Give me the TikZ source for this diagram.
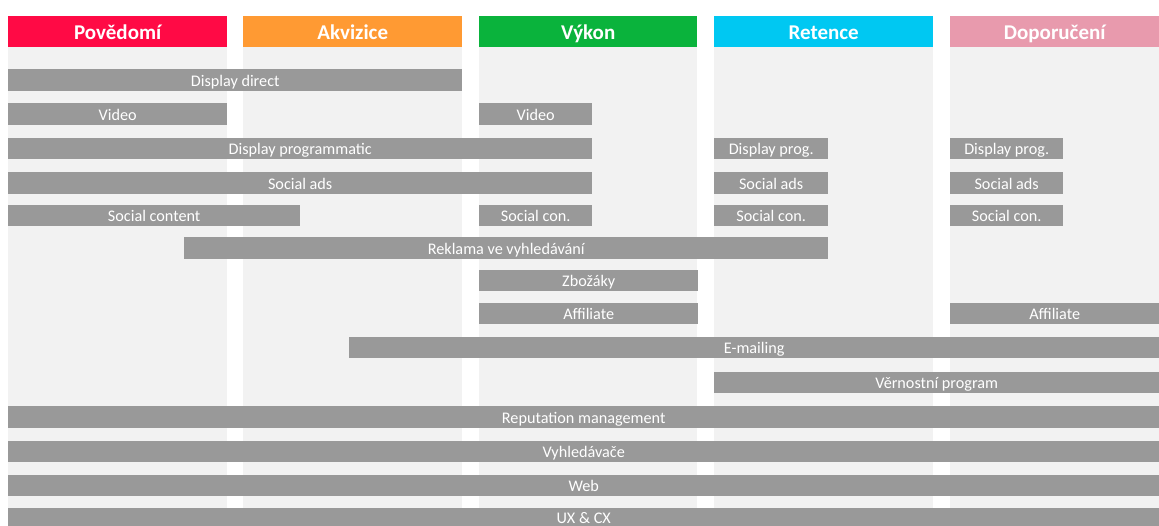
\documentclass[tikz,border=0pt]{standalone}
\usepackage{fontspec}
\setmainfont{Carlito}
\definecolor{cred}{HTML}{FF0A45}
\definecolor{corange}{HTML}{FF9A33}
\definecolor{cgreen}{HTML}{0AB33C}
\definecolor{ccyan}{HTML}{00C8F2}
\definecolor{cpink}{HTML}{E89AAD}
\definecolor{cbar}{HTML}{999999}
\definecolor{cbg}{HTML}{F2F2F2}
\tikzset{
  headbox/.style={anchor=north west, inner sep=0pt, minimum height=31pt, text=white,
    font=\fontsize{21}{23}\selectfont\bfseries, text height=16pt, text depth=1pt},
  barbox/.style={anchor=north west, fill=cbar, inner sep=0pt, minimum height=21.5pt, text=white,
    font=\fontsize{16.2}{18}\selectfont, text height=14pt, text depth=1.5pt},
  colbg/.style={fill=cbg, draw=none}
}
\begin{document}
\begin{tikzpicture}[x=1pt,y=-1pt]
\clip (0,0) rectangle (1159,525);
\fill[white] (0,0) rectangle (1159,525);
% column backgrounds
\fill[colbg] (8,47) rectangle (227,525);
\fill[colbg] (243,47) rectangle (462,525);
\fill[colbg] (479,47) rectangle (697,525);
\fill[colbg] (714,47) rectangle (933,525);
\fill[colbg] (950,47) rectangle (1159,525);
% headers
\node[headbox, fill=cred, minimum width=219pt] (h1) at (8,16) {Povědomí};
\node[headbox, fill=corange, minimum width=219pt] (h2) at (243,16) {Akvizice};
\node[headbox, fill=cgreen, minimum width=218pt] (h3) at (479,16) {Výkon};
\node[headbox, fill=ccyan, minimum width=219pt] (h4) at (714,16) {Retence};
\node[headbox, fill=cpink, minimum width=209pt] (h5) at (950,16) {Doporučení};
% bars
\node[barbox, minimum width=454pt] (dd) at (8,69) {Display direct};
\node[barbox, minimum width=219pt] (v1) at (8,103) {Video};
\node[barbox, minimum width=113pt] (v2) at (479,103) {Video};
\node[barbox, minimum width=584pt] (dp1) at (8,137.5) {Display programmatic};
\node[barbox, minimum width=114pt] (dp2) at (714,137.5) {Display prog.};
\node[barbox, minimum width=113pt] (dp3) at (950,137.5) {Display prog.};
\node[barbox, minimum width=584pt] (sa1) at (8,172) {Social ads};
\node[barbox, minimum width=114pt] (sa2) at (714,172) {Social ads};
\node[barbox, minimum width=113pt] (sa3) at (950,172) {Social ads};
\node[barbox, minimum width=292pt] (sc1) at (8,204.5) {Social content};
\node[barbox, minimum width=113pt] (sc2) at (479,204.5) {Social con.};
\node[barbox, minimum width=114pt] (sc3) at (714,204.5) {Social con.};
\node[barbox, minimum width=113pt] (sc4) at (950,204.5) {Social con.};
\node[barbox, minimum width=644pt] (rk) at (184,237) {Reklama ve vyhledávání};
\node[barbox, minimum width=219pt] (zb) at (479,269.5) {Zbožáky};
\node[barbox, minimum width=219pt] (af1) at (479,302.5) {Affiliate};
\node[barbox, minimum width=209pt] (af2) at (950,302.5) {Affiliate};
\node[barbox, minimum width=810pt] (em) at (349,336.5) {E-mailing};
\node[barbox, minimum width=445pt] (vp) at (714,371.5) {Věrnostní program};
\node[barbox, minimum width=1151pt] (rm) at (8,406) {Reputation management};
\node[barbox, minimum width=1151pt] (vy) at (8,440.5) {Vyhledávače};
\node[barbox, minimum width=1151pt] (web) at (8,474.5) {Web};
\node[barbox, minimum width=1151pt, minimum height=18pt, text height=12pt, text depth=0pt] (ux) at (8,508) {UX \& CX};
\end{tikzpicture}
\end{document}
